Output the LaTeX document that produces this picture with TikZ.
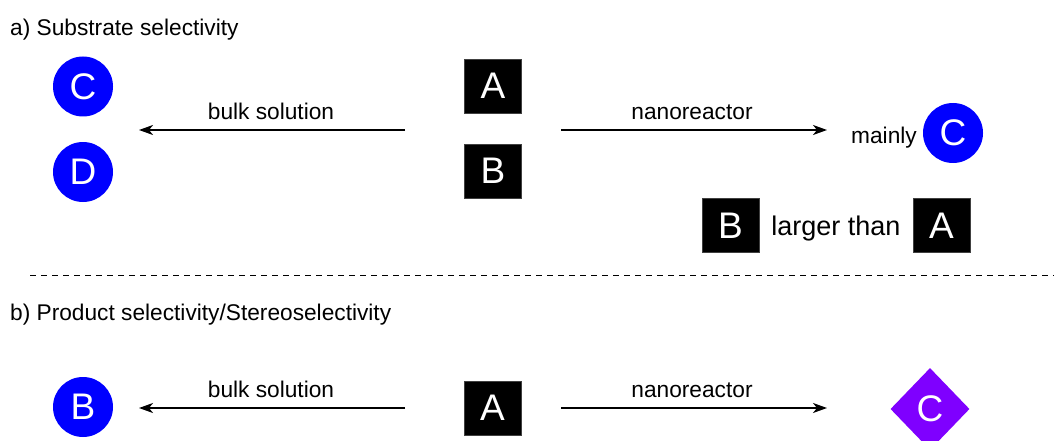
\documentclass[tikz,border=0pt]{standalone}
\usepackage{fontspec}
\setmainfont{Liberation Sans}
\usetikzlibrary{arrows.meta,shapes.geometric}
\definecolor{cblue}{RGB}{0,0,255}
\definecolor{cviolet}{RGB}{127,0,255}
\begin{document}
\begin{tikzpicture}[x=1pt,y=-1pt,
  lbl/.style={font=\fontsize{22.7}{26}\selectfont, inner sep=0pt},
  biglbl/.style={font=\fontsize{27}{30}\selectfont, inner sep=0pt},
  sq/.style={fill=black, draw=black!75, minimum width=57pt, minimum height=54pt, inner sep=0pt, text=white, font=\fontsize{37}{40}\selectfont},
  circ/.style={circle, fill=cblue, minimum size=60pt, inner sep=0pt, text=white, font=\fontsize{37}{40}\selectfont},
  dia/.style={diamond, fill=cviolet, minimum width=79pt, minimum height=82pt, inner sep=0pt, text=white, font=\fontsize{37}{40}\selectfont},
  arr/.style={-{Stealth[length=14pt,width=10pt,inset=4pt]}, line width=1.7pt},
  sep/.style={dash pattern=on 6pt off 5pt, line width=1pt}
]
\useasboundingbox (0,0) rectangle (1054,441);
\clip (0,0) rectangle (1054,441);
% part a
\node[lbl, anchor=base west] (ta) at (10,35.5) {a) Substrate selectivity};
\node[circ] (c1) at (83,86.5) {C};
\node[circ] (d1) at (83,172) {D};
\node[sq] (a1) at (493,86) {A};
\node[sq] (b1) at (493,171) {B};
\node[circ] (c2) at (953,133) {C};
\node[lbl, anchor=base east] (mainly) at (917,143) {mainly};
\node[sq] (b2) at (730.5,225.5) {B};
\node[sq] (a2) at (941.5,225.5) {A};
\node[biglbl, anchor=base] (larger) at (836,235) {larger than};
\coordinate (l1s) at (405,130);
\coordinate (l1e) at (139,130);
\coordinate (r1s) at (561,130);
\coordinate (r1e) at (827,130);
\draw[arr] (l1s) -- (l1e);
\draw[arr] (r1s) -- (r1e);
\node[lbl, anchor=base] (bulk1) at (271,119.5) {bulk solution};
\node[lbl, anchor=base] (nano1) at (692,119.5) {nanoreactor};
% separator
\coordinate (sl) at (30,275.5);
\coordinate (sr) at (1054,275.5);
\draw[sep] (sl) -- (sr);
% part b
\node[lbl, anchor=base west] (tb) at (10,320.5) {b) Product selectivity/Stereoselectivity};
\node[circ] (b3) at (83,407) {B};
\node[sq] (a3) at (492.5,408) {A};
\node[dia] (c3) at (930,409) {C};
\coordinate (l2s) at (405,408);
\coordinate (l2e) at (139,408);
\coordinate (r2s) at (561,408);
\coordinate (r2e) at (827,408);
\draw[arr] (l2s) -- (l2e);
\draw[arr] (r2s) -- (r2e);
\node[lbl, anchor=base] (bulk2) at (271,397.5) {bulk solution};
\node[lbl, anchor=base] (nano2) at (692,397.5) {nanoreactor};
\end{tikzpicture}
\end{document}
